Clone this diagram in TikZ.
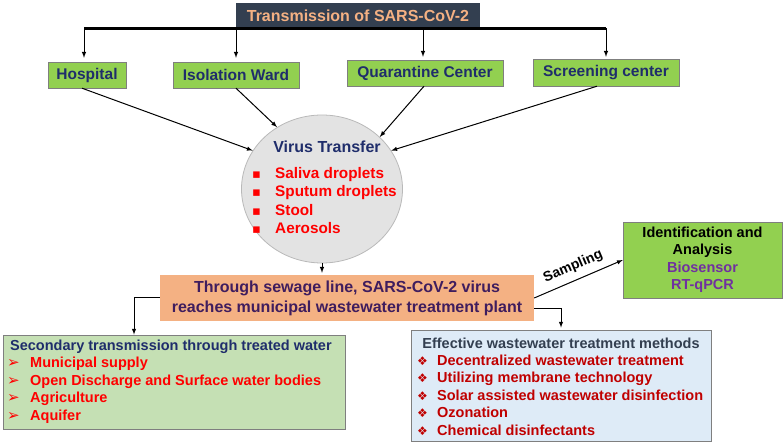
\documentclass[tikz,border=0pt]{standalone}
\usepackage{fontspec}
\setmainfont{Liberation Sans}
\newfontfamily\symfont{DejaVu Sans}
\usepackage{tikz}
\usetikzlibrary{shapes.geometric}
\definecolor{slate}{HTML}{333F50}
\definecolor{peach}{HTML}{F4B183}
\definecolor{leaf}{HTML}{92D050}
\definecolor{navy}{HTML}{1F2D6B}
\definecolor{palegreen}{HTML}{C5E0B4}
\definecolor{paleblue}{HTML}{DEEBF7}
\definecolor{plum}{HTML}{3F1D5E}
\definecolor{bioviolet}{HTML}{7030A0}
\definecolor{darkred}{HTML}{C00000}
\definecolor{boxgray}{HTML}{7F7F7F}

\begin{document}
\begin{tikzpicture}[x=1pt,y=-1pt,
    greenbox/.style={draw=boxgray, fill=leaf, text=navy, inner sep=0pt,
      font=\bfseries\fontsize{15.5}{18}\selectfont},
    listbox/.style={draw=boxgray, thick, inner sep=0pt},
    listtext/.style={anchor=west, align=left, inner sep=0pt,
      font=\bfseries\fontsize{14.5}{17.5}\selectfont},
    link/.style={-latex, line width=1pt}]
    \useasboundingbox (0,0) rectangle (784,443);
    % Title
    \node[fill=slate, text=peach, minimum width=244pt, minimum height=25pt,
      font=\bfseries\fontsize{16}{19}\selectfont] (top) at (358,15.5)
      {Transmission of SARS-CoV-2};
    % Sources
    \node[greenbox, minimum width=78pt, minimum height=26pt] (hosp) at (87,75) {Hospital};
    \node[greenbox, minimum width=126pt, minimum height=26pt] (iso) at (236,75) {Isolation Ward};
    \node[greenbox, minimum width=156pt, minimum height=26pt] (quar) at (425,73) {Quarantine Center};
    \node[greenbox, minimum width=146pt, minimum height=27pt] (screen) at (606,72.5) {Screening center};
    % Bar under the title
    \draw[line width=3pt] ([xshift=-3pt]hosp.north |- top.south) -- (screen.north |- top.south);
    \draw[link] ([xshift=-3pt]hosp.north |- top.south) -- ([xshift=-3pt,yshift=4pt]hosp.north);
    \draw[link] (iso.north |- top.south) -- ([yshift=4pt]iso.north);
    \draw[link] ([xshift=-2pt]quar.north |- top.south) -- ([xshift=-2pt,yshift=3pt]quar.north);
    \draw[link] (screen.north |- top.south) -- ([yshift=2pt]screen.north);
    % Virus transfer
    \node[ellipse, draw=gray!55, thick, fill=gray!22, minimum width=161pt,
      minimum height=148pt] (virus) at (322,189) {};
    \node[text=navy, font=\bfseries\fontsize{16}{19}\selectfont] (vt) at (327,147) {Virus Transfer};
    \node[listtext, text=red, font=\bfseries\fontsize{15.3}{18.3}\selectfont] (vlist) at (252,200.5)
      {\makebox[23pt][l]{\symfont\fontsize{13}{13}\selectfont ▪}Saliva droplets\\
       \makebox[23pt][l]{\symfont\fontsize{13}{13}\selectfont ▪}Sputum droplets\\
       \makebox[23pt][l]{\symfont\fontsize{13}{13}\selectfont ▪}Stool\\
       \makebox[23pt][l]{\symfont\fontsize{13}{13}\selectfont ▪}Aerosols};
    \draw[link] ([xshift=-5pt]hosp.south) -- (virus.151);
    \draw[link] (iso.south) -- (virus.126);
    \draw[link] ([xshift=-1pt]quar.south) -- (virus.42);
    \draw[link] ([xshift=-9pt]screen.south) -- (virus.29);
    % Sewage line
    \node[fill=peach, text=plum, minimum width=374pt, minimum height=46pt, align=center,
      font=\bfseries\fontsize{16}{20}\selectfont] (sewage) at (347,298)
      {Through sewage line, SARS-CoV-2 virus\\reaches municipal wastewater treatment plant};
    \draw[link] (virus.south) -- ([yshift=2pt]virus.south |- sewage.north);
    % Identification
    \node[greenbox, text=black, minimum width=159pt, minimum height=76pt, align=center,
      font=\bfseries\fontsize{14.5}{17.5}\selectfont] (ident) at (702.5,260)
      {Identification and\\Analysis\\\textcolor{bioviolet}{Biosensor}\\\textcolor{bioviolet}{RT-qPCR}};
    \draw[link] (sewage.east) -- node[pos=0.5, above=3pt, sloped, font=\bfseries\fontsize{14}{16}\selectfont] (samp) {Sampling} (ident.west);
    % Secondary transmission
    \node[listbox, fill=palegreen, minimum width=342pt, minimum height=94pt] (second) at (174,382) {};
    \node[listtext, text=navy] (sectitle) at (10,347) {Secondary transmission through treated water};
    \node[listtext, text=red] (seclist) at (7,390.5)
      {\makebox[23pt][l]{\symfont\fontsize{15}{15}\selectfont ➢}Municipal supply\\
       \makebox[23pt][l]{\symfont\fontsize{15}{15}\selectfont ➢}Open Discharge and Surface water bodies\\
       \makebox[23pt][l]{\symfont\fontsize{15}{15}\selectfont ➢}Agriculture\\
       \makebox[23pt][l]{\symfont\fontsize{15}{15}\selectfont ➢}Aquifer};
    \draw[link] (sewage.west) -| ([xshift=-40pt]second.north);
    % Treatment methods
    \node[listbox, fill=paleblue, minimum width=300pt, minimum height=111pt] (treat) at (561,385.5) {};
    \node[text=slate, inner sep=0pt, font=\bfseries\fontsize{14.5}{17.5}\selectfont] (trtitle) at (561,343)
      {Effective wastewater treatment methods};
    \node[listtext, text=darkred] (trlist) at (417,395)
      {\makebox[20pt][l]{\symfont\fontsize{12}{12}\selectfont ❖}Decentralized wastewater treatment\\
       \makebox[20pt][l]{\symfont\fontsize{12}{12}\selectfont ❖}Utilizing membrane technology\\
       \makebox[20pt][l]{\symfont\fontsize{12}{12}\selectfont ❖}Solar assisted wastewater disinfection\\
       \makebox[20pt][l]{\symfont\fontsize{12}{12}\selectfont ❖}Ozonation\\
       \makebox[20pt][l]{\symfont\fontsize{12}{12}\selectfont ❖}Chemical disinfectants};
    \draw[link] ([yshift=-11pt]sewage.east) -| ([yshift=2pt]treat.north);
\end{tikzpicture}
\end{document}
